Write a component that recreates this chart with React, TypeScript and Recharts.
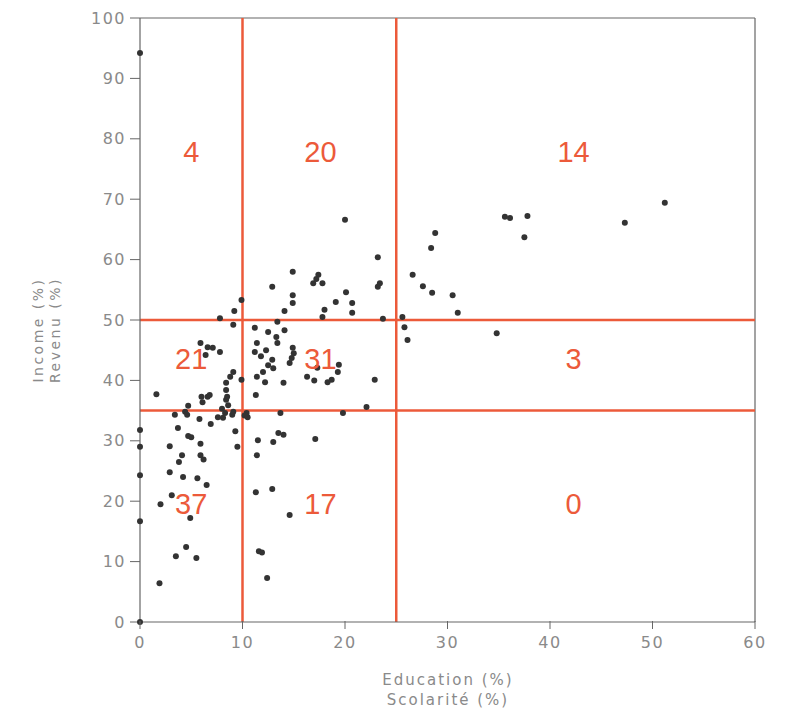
import React from "react";
import {
  ScatterChart,
  Scatter,
  XAxis,
  YAxis,
  ReferenceLine,
} from "recharts";

type Pt = [number, number];

// points per quadrant (education %, income %)
const TOP_LEFT: Pt[] = [[0, 94.2], [9.9, 53.3], [9.2, 51.5], [7.8, 50.3]];
const TOP_MID: Pt[] = [
  [12.9, 55.5], [14.9, 58], [17.4, 57.5], [16.9, 56.1], [17.8, 56.1], [17.2, 56.8],
  [14.9, 54.1], [14.9, 52.8], [20.1, 54.6], [19.1, 53], [20.7, 52.8], [20.7, 51.2],
  [18, 51.7], [17.8, 50.5], [14.1, 51.5], [23.2, 60.4], [23.2, 55.5], [23.4, 56.1],
  [23.7, 50.2], [20, 66.6],
];
const TOP_RIGHT: Pt[] = [
  [51.2, 69.4], [47.3, 66.1], [35.6, 67.1], [36.1, 66.9], [37.8, 67.2], [37.5, 63.7],
  [28.8, 64.4], [28.4, 61.9], [26.6, 57.5], [27.6, 55.6], [28.5, 54.5], [30.5, 54.1],
  [31, 51.2], [25.6, 50.5],
];
const MID_LEFT: Pt[] = [
  [5.9, 46.2], [6.6, 45.5], [7.1, 45.4], [7.8, 44.7], [6.4, 44.2], [9.1, 49.2],
  [9.1, 41.4], [8.8, 40.6], [8.4, 39.6], [8.4, 38.4], [9.9, 40.1], [1.6, 37.7],
  [6.0, 37.3], [6.6, 37.3], [6.8, 37.6], [6.1, 36.4], [4.7, 35.8], [8.4, 36.8],
  [8.5, 37.3], [8.6, 35.9], [8.0, 35.3],
];
const MID_MID: Pt[] = [
  [11.2, 48.7], [13.4, 49.7], [14.1, 48.3], [13.3, 47.2], [13.4, 46.2], [11.4, 46.2],
  [11.2, 44.7], [14.9, 45.4], [14.8, 43.7], [14.6, 42.9], [12.9, 43.4], [12.5, 42.5],
  [12.0, 41.4], [12.2, 39.7], [11.4, 40.6], [14.0, 39.6], [16.3, 40.6], [17.3, 42.1],
  [18.3, 39.7], [18.7, 40.1], [19.3, 41.4], [22.9, 40.1], [11.3, 37.6], [22.1, 35.6],
  [19.4, 42.6], [11.8, 44.0], [13.0, 42.0], [15.0, 44.5], [12.5, 48.0], [17.0, 40.0],
  [12.3, 45.0],
];
const MID_RIGHT: Pt[] = [[25.8, 48.8], [26.1, 46.7], [34.8, 47.8]];
const BOT_LEFT: Pt[] = [
  [0, 31.8], [0, 29], [0, 24.3], [0, 16.7], [0, 0],
  [3.4, 34.3], [4.6, 34.3], [5.8, 33.6], [6.9, 32.8], [8.3, 34.6], [9.0, 34.3],
  [9.3, 31.6], [3.7, 32.1], [4.7, 30.8], [5.9, 29.5], [2.9, 29.1], [9.5, 29.0],
  [4.1, 27.6], [3.8, 26.5], [5.9, 27.6], [2.9, 24.8], [4.2, 24.0], [5.6, 23.8],
  [6.5, 22.7], [3.1, 21.0], [2.0, 19.5], [4.9, 17.2], [4.5, 12.4], [3.5, 10.9],
  [5.5, 10.6], [1.9, 6.4], [5.0, 30.6], [8.1, 33.8], [6.2, 26.9], [4.4, 34.8],
  [7.6, 33.9], [9.1, 34.8],
];
const BOT_MID: Pt[] = [
  [10.4, 34.6], [10.5, 33.9], [10.2, 34.2], [13.7, 34.6], [19.8, 34.6], [11.5, 30.1],
  [11.4, 27.6], [13.0, 29.8], [13.5, 31.3], [14.0, 31.0], [17.1, 30.3], [11.3, 21.5],
  [12.9, 22], [14.6, 17.7], [11.6, 11.7], [11.9, 11.5], [12.4, 7.3],
];

// cut lines and quadrant counts
const CUT_X = [10, 25];
const CUT_Y = [35, 50];
const COUNT_X = [5, 17.6, 42.3];
const COUNT_Y = [77.8, 43.5, 19.5];
const COUNTS = [
  ["4", "20", "14"],
  ["21", "31", "3"],
  ["37", "17", "0"],
];

const X_TICKS = [0, 10, 20, 30, 40, 50, 60];
const Y_TICKS = [0, 10, 20, 30, 40, 50, 60, 70, 80, 90, 100];

const RED = "#ec5a3a";
const GREY = "#8a8a8a";
const AXIS = "#666";
const FONT = "'DejaVu Sans', sans-serif";

const points = [
  ...TOP_LEFT, ...TOP_MID, ...TOP_RIGHT,
  ...MID_LEFT, ...MID_MID, ...MID_RIGHT,
  ...BOT_LEFT, ...BOT_MID,
].map(([x, y]) => ({ x, y }));

const countData = COUNTS.flatMap((row, r) =>
  row.map((label, c) => ({ x: COUNT_X[c], y: COUNT_Y[r], label }))
);

const TICK_MARGIN = 9;

function XTick(props: any) {
  const { x, y, payload } = props;
  const axisY = y - TICK_MARGIN;
  return (
    <g>
      <line x1={x} x2={x} y1={axisY - 7} y2={axisY + 1} stroke={AXIS} strokeWidth={1} />
      <text
        x={x}
        y={y}
        dy="0.71em"
        textAnchor="middle"
        fill={GREY}
        fontSize={16}
        fontFamily={FONT}
        letterSpacing={1.5}
      >
        {payload.value}
      </text>
    </g>
  );
}

function CountLabel(props: any) {
  const { cx, cy, payload } = props;
  return (
    <text
      x={cx}
      y={cy}
      dy="0.35em"
      textAnchor="middle"
      fill={RED}
      fontSize={29}
      fontFamily="'Liberation Sans', Arial, sans-serif"
    >
      {payload.label}
    </text>
  );
}

export default function App() {
  return (
    <div style={{ position: "relative", width: 780, height: 710, background: "#fff" }}>
      <ScatterChart
        width={780}
        height={710}
        margin={{ top: 10, right: 33, bottom: 0, left: 0 }}
      >
        <XAxis
          type="number"
          dataKey="x"
          domain={[0, 60]}
          ticks={X_TICKS}
          height={96}
          tickLine={false}
          tickMargin={TICK_MARGIN}
          axisLine={{ stroke: AXIS, strokeWidth: 1.2 }}
          tick={<XTick />}
        />
        <YAxis
          type="number"
          dataKey="y"
          domain={[0, 100]}
          ticks={Y_TICKS}
          width={132}
          tickSize={10}
          tickMargin={4}
          tickLine={{ stroke: AXIS }}
          axisLine={{ stroke: AXIS, strokeWidth: 1.2 }}
          tick={{ fill: GREY, fontSize: 16, fontFamily: FONT, letterSpacing: 1.5 }}
        />
        <ReferenceLine y={100} stroke={AXIS} strokeWidth={1.2} />
        <ReferenceLine x={60} stroke={AXIS} strokeWidth={1.2} />
        {CUT_X.map((v) => (
          <ReferenceLine key={"x" + v} x={v} stroke={RED} strokeWidth={2.5} />
        ))}
        {CUT_Y.map((v) => (
          <ReferenceLine key={"y" + v} y={v} stroke={RED} strokeWidth={2.5} />
        ))}
        <Scatter data={points} fill="#333" isAnimationActive={false} shape={(p: any) => (
          <circle cx={p.cx} cy={p.cy} r={3} fill="#333" />
        )} />
        <Scatter data={countData} isAnimationActive={false} shape={<CountLabel />} />
      </ScatterChart>

      {/* axis titles */}
      <div
        style={{
          position: "absolute",
          left: 0,
          width: 880,
          top: 662,
          textAlign: "center",
          color: GREY,
          fontFamily: FONT,
          fontSize: 15,
          letterSpacing: 2,
          lineHeight: "20px",
        }}
      >
        Education (%)
        <br />
        Scolarité (%)
      </div>
      <div
        style={{
          position: "absolute",
          left: 42 - 150,
          top: 322 - 20,
          width: 300,
          height: 40,
          transform: "rotate(-90deg)",
          textAlign: "center",
          color: GREY,
          fontFamily: FONT,
          fontSize: 14,
          letterSpacing: 2.5,
          lineHeight: "17px",
        }}
      >
        Income (%)
        <br />
        Revenu (%)
      </div>
    </div>
  );
}
